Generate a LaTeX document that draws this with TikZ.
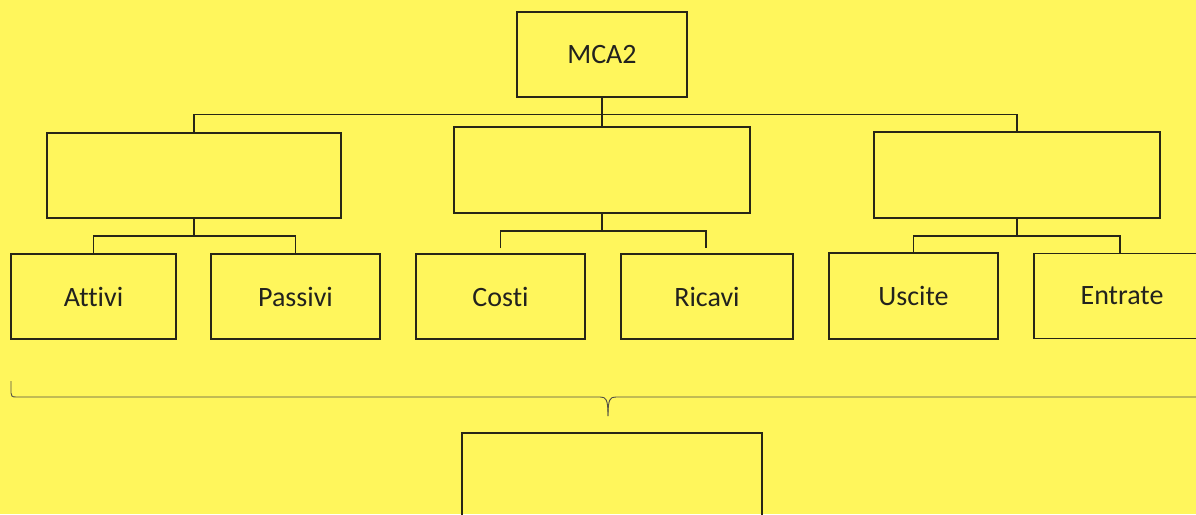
\documentclass[tikz,border=0pt]{standalone}
\usepackage{fontspec}
\setmainfont{Carlito}[Ligatures={NoCommon,NoContextual}]
\begin{document}
\begin{tikzpicture}[x=1pt,y=-1pt,
  box/.style={draw=ink,line width=1.8pt,fill=none,inner sep=0pt,text=txt,
    font=\fontsize{28}{34}\selectfont},
  conn/.style={draw=ink,line width=1.1pt},
  brc/.style={draw=ink!80,line width=0.9pt}]
\definecolor{bg}{RGB}{255,246,92}
\definecolor{ink}{RGB}{40,38,22}
\definecolor{txt}{RGB}{34,34,30}
\fill[bg] (0,0) rectangle (1196,514);
\clip (0,0) rectangle (1196,514);
% boxes
\node[box,minimum width=170pt,minimum height=85pt] (top) at (602,54.5) {MCA2};
\node[box,minimum width=294pt,minimum height=85pt] (L) at (194,175.5) {};
\node[box,minimum width=296pt,minimum height=86pt] (M) at (602,170) {};
\node[box,minimum width=286pt,minimum height=86pt] (R) at (1017,175) {};
\node[box,minimum width=165pt,minimum height=85pt] (A) at (93.5,296.5) {Attivi};
\node[box,minimum width=169pt,minimum height=85pt] (P) at (295.5,296.5) {Passivi};
\node[box,minimum width=169pt,minimum height=85pt] (C) at (500.5,296.5) {Costi};
\node[box,minimum width=172pt,minimum height=85pt] (Ri) at (707,296.5) {Ricavi};
\node[box,minimum width=169pt,minimum height=86pt] (U) at (913.5,296) {Uscite};
\node[box,minimum width=176pt,minimum height=85pt] (E) at (1122,296) {Entrate};
\node[box,minimum width=300pt,minimum height=120pt] (B) at (612,493) {};
% top level connectors
\draw[conn] (top.south) -- (M.north);
\draw[conn] (L.north) -- ++(0,-18) -| (R.north);
% left group
\coordinate (jL) at (194,236);
\draw[conn] (L.south) -- (jL);
\draw[conn] (A.north) |- (jL) -| (P.north);
% middle group
\coordinate (jM) at (602,231);
\coordinate (eC) at (500.5,248);
\coordinate (eR) at (706,248);
\draw[conn] (M.south) -- (jM);
\draw[conn] (eC) |- (jM) -| (eR);
% right group
\coordinate (jR) at (1017,236);
\draw[conn] (R.south) -- (jR);
\draw[conn] (U.north) |- (jR) -| (1120,253);
% brace
\coordinate (bl) at (11,381);
\coordinate (bt) at (608,416);
\coordinate (br) at (1200,397);
\draw[brc] (bl) -- (11,393) .. controls (11,396) and (12,397) .. (16,397)
  -- (600,397) .. controls (606,397) and (608,399) .. (bt);
\draw[brc] (bt) .. controls (608,399) and (610,397) .. (616,397) -- (br);
\end{tikzpicture}
\end{document}
